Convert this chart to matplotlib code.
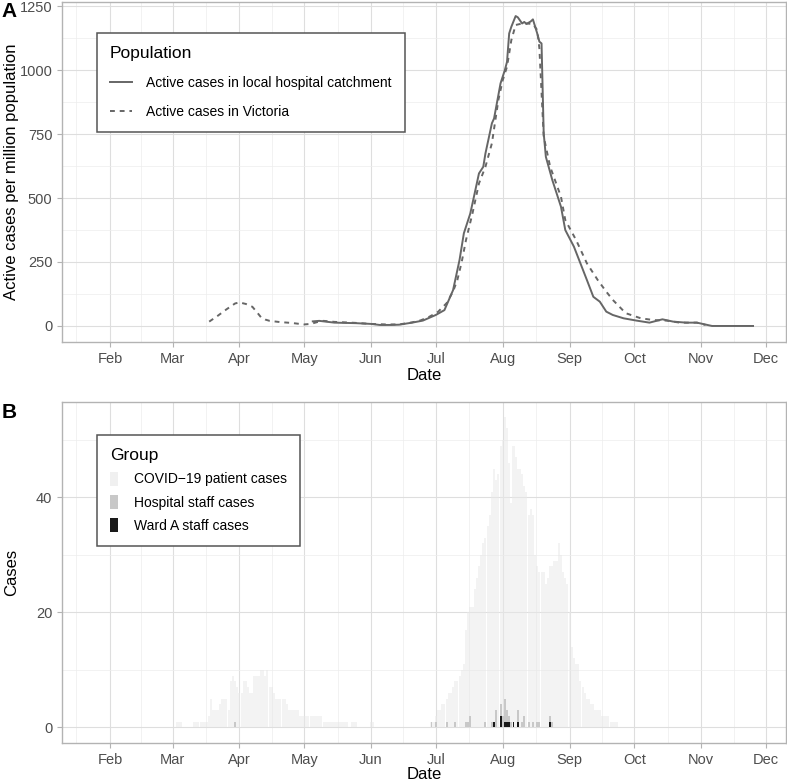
import numpy as np
import matplotlib
matplotlib.use("Agg")
import matplotlib.pyplot as plt
import matplotlib.dates as mdates
from matplotlib.patches import Patch
from matplotlib.lines import Line2D

plt.rcParams['font.family'] = ['Liberation Sans', 'DejaVu Sans']

#--------------------
# Panel A: active cases per million
local_dates = ['2020-05-05', '2020-05-08', '2020-05-12', '2020-05-15', '2020-05-20', '2020-05-25',
               '2020-06-01', '2020-06-05', '2020-06-10', '2020-06-14', '2020-06-20', '2020-06-25',
               '2020-07-01', '2020-07-05', '2020-07-09', '2020-07-12', '2020-07-14', '2020-07-17',
               '2020-07-19', '2020-07-21', '2020-07-23', '2020-07-24', '2020-07-27', '2020-07-28',
               '2020-07-31', '2020-08-02', '2020-08-03', '2020-08-04', '2020-08-05', '2020-08-07',
               '2020-08-08', '2020-08-10', '2020-08-11', '2020-08-12', '2020-08-14', '2020-08-15',
               '2020-08-17', '2020-08-18', '2020-08-19', '2020-08-20', '2020-08-21', '2020-08-24',
               '2020-08-28', '2020-08-30', '2020-09-03', '2020-09-06', '2020-09-09', '2020-09-12',
               '2020-09-15', '2020-09-18', '2020-09-21', '2020-09-26', '2020-10-02', '2020-10-08',
               '2020-10-14', '2020-10-19', '2020-10-25', '2020-10-30', '2020-11-06', '2020-11-25']
local_active = [18, 20, 16, 13, 12, 11,
                8, 4, 4, 5, 13, 21,
                43, 62, 140, 258, 362, 440,
                518, 596, 622, 674, 792, 811,
                948, 1000, 1032, 1143, 1169, 1211,
                1206, 1182, 1188, 1180, 1190, 1198,
                1143, 1111, 1104, 753, 661, 570,
                466, 375, 310, 245, 180, 114,
                95, 56, 43, 30, 21, 13,
                26, 17, 13, 13, 0, 0]

vic_dates = ['2020-03-18', '2020-03-22', '2020-03-26', '2020-03-30', '2020-04-01', '2020-04-04',
             '2020-04-07', '2020-04-09', '2020-04-11', '2020-04-13', '2020-04-15', '2020-04-20',
             '2020-04-25', '2020-05-01', '2020-05-04', '2020-05-07', '2020-05-10', '2020-05-15',
             '2020-05-20', '2020-05-25', '2020-06-01', '2020-06-08', '2020-06-14', '2020-06-20',
             '2020-06-24', '2020-06-28', '2020-07-02', '2020-07-06', '2020-07-09', '2020-07-11',
             '2020-07-13', '2020-07-15', '2020-07-18', '2020-07-21', '2020-07-24', '2020-07-27',
             '2020-07-30', '2020-08-01', '2020-08-03', '2020-08-05', '2020-08-07', '2020-08-10',
             '2020-08-12', '2020-08-15', '2020-08-17', '2020-08-18', '2020-08-20', '2020-08-23',
             '2020-08-28', '2020-08-30', '2020-09-04', '2020-09-09', '2020-09-14', '2020-09-18',
             '2020-09-21', '2020-09-27', '2020-10-04', '2020-10-10', '2020-10-16', '2020-10-22',
             '2020-10-30', '2020-11-03']
vic_active = [17, 40, 65, 88, 92, 86,
              75, 55, 34, 25, 20, 15,
              12, 6, 8, 15, 20, 16,
              14, 12, 8, 6, 6, 14,
              22, 36, 55, 89, 135, 180,
              250, 336, 440, 557, 622, 714,
              883, 960, 1013, 1117, 1176, 1182,
              1182, 1180, 1156, 1085, 740, 622,
              505, 414, 336, 245, 180, 134,
              102, 50, 30, 23, 21, 13,
              13, 4]

#--------------------
# Panel B: daily cases
cases_start = '2020-03-01'
mar_cases = [0, 0, 1, 1, 1, 0, 0, 0, 0, 0, 1, 1, 1, 1, 1, 1, 1, 2, 5, 3,
             3, 3, 4, 5, 5, 5, 3, 8, 9, 8, 7]
apr_cases = [6, 6, 8, 8, 7, 6, 6, 9, 9, 9, 10, 10, 9, 10, 7, 7, 6, 5, 5, 5,
             5, 5, 4, 3, 3, 3, 3, 3, 2, 2]
may_cases = [2, 2, 2, 2, 2, 2, 2, 2, 2, 1, 1, 1, 1, 1, 1, 1, 1, 1, 1, 1,
             1, 0, 1, 1, 1, 0, 0, 0, 0, 0, 0]
jun_cases = [1, 1, 0, 0, 0, 0, 0, 0, 0, 0, 0, 0, 0, 0, 0, 0, 0, 0, 0, 0,
             0, 0, 0, 0, 0, 0, 0, 0, 1, 1]
jul_cases = [2, 3, 3, 4, 4, 5, 6, 6, 7, 8, 8, 9, 10, 11, 17, 20, 21, 21, 24, 26,
             28, 30, 32, 33, 35, 37, 41, 45, 43, 44, 49]
aug_cases = [50, 54, 52, 46, 39, 49, 47, 45, 45, 44, 42, 41, 37, 38, 37, 30, 28, 27, 27, 27,
             25, 26, 28, 28, 29, 29, 32, 30, 27, 26, 25]
sep_cases = [20, 14, 12, 11, 11, 8, 7, 6, 5, 5, 4, 4, 3, 3, 3, 2, 2, 2, 2, 1,
             1, 1, 1, 0, 0, 0, 0, 0, 0, 0]

staff_dates = ['2020-03-30', '2020-06-29', '2020-07-01', '2020-07-06', '2020-07-10', '2020-07-15',
               '2020-07-16', '2020-07-17', '2020-07-24', '2020-07-27', '2020-07-28', '2020-07-29',
               '2020-07-31', '2020-08-01', '2020-08-02', '2020-08-03', '2020-08-04', '2020-08-05',
               '2020-08-06', '2020-08-08', '2020-08-10', '2020-08-11', '2020-08-13', '2020-08-15',
               '2020-08-17', '2020-08-18', '2020-08-23', '2020-08-24']
staff_cases = [1, 1, 1, 1, 1, 1,
               1, 2, 1, 1, 1, 3,
               4, 2, 5, 3, 2, 1,
               1, 3, 1, 2, 1, 1,
               1, 1, 2, 1]

ward_dates = ['2020-07-28', '2020-07-31', '2020-08-02', '2020-08-03', '2020-08-04', '2020-08-06',
              '2020-08-08', '2020-08-23']
ward_cases = [1, 2, 1, 1, 1, 1,
              1, 1]

month_labels = ['Feb', 'Mar', 'Apr', 'May', 'Jun', 'Jul', 'Aug', 'Sep', 'Oct', 'Nov', 'Dec']

#--------------------
# helpers
GRID = '#DEDEDE'
GRID_MINOR = '#EDEDED'
BORDER = '#B3B3B3'
TICKTXT = '#4D4D4D'


def d2n(dates):
    return mdates.date2num(np.array(dates, dtype='datetime64[D]'))


def style_axes(ax, yticks, yminor):
    month_starts = d2n(['2020-%02d-01' % m for m in range(2, 13)])
    edges = d2n(['2020-%02d-01' % m for m in range(1, 13)])
    minors = list((edges[:-1] + edges[1:]) / 2)
    ax.set_xticks(month_starts)
    ax.set_xticklabels(month_labels)
    ax.set_xticks(minors, minor=True)
    ax.set_yticks(yticks)
    ax.set_yticks(yminor, minor=True)
    ax.grid(which='major', color=GRID, linewidth=0.8)
    ax.grid(which='minor', color=GRID_MINOR, linewidth=0.5)
    ax.set_axisbelow(True)
    for sp in ax.spines.values():
        sp.set_color(BORDER)
        sp.set_linewidth(1.0)
    ax.tick_params(which='major', length=3.5, color=BORDER, labelcolor=TICKTXT,
                   labelsize=10.5, width=0.8)
    ax.tick_params(which='minor', length=0)
    ax.set_xlim(mdates.date2num(np.datetime64('2020-01-01')) + 8.8,
                mdates.date2num(np.datetime64('2020-01-01')) + 344.3)


fig = plt.figure(figsize=(7.87, 7.82), dpi=100)

#--------------------
# Panel A
axA = fig.add_axes([0.0788, 0.5627, 0.9200, 0.4353])
axA.plot(d2n(local_dates), local_active, color='#666666', lw=1.4, ls='-')
axA.plot(d2n(vic_dates), vic_active, color='#666666', lw=1.4, ls=(0, (2.5, 2.5)))
style_axes(axA, [0, 250, 500, 750, 1000, 1250], [125, 375, 625, 875, 1125])
axA.set_ylim(-62.5, 1267.6)
axA.set_xlabel('Date', fontsize=12, labelpad=2)
axA.set_ylabel('Active cases per million population', fontsize=12)
axA.yaxis.set_label_coords(-0.0594, 0.5)

handles_A = [Line2D([], [], color='#666666', lw=1.4, ls='-'),
             Line2D([], [], color='#666666', lw=1.4, ls=(0, (2.5, 2.5)))]
legA = axA.legend(handles_A, ['Active cases in local hospital catchment', 'Active cases in Victoria'],
                  title='Population', loc='upper left', bbox_to_anchor=(0.048, 0.907),
                  borderaxespad=0, fontsize=10, title_fontsize=12.5, fancybox=False,
                  framealpha=1, edgecolor='#555555', handlelength=1.6, handletextpad=1.0,
                  labelspacing=1.05, borderpad=0.95)
legA.get_frame().set_linewidth(1.1)
legA._legend_box.align = 'left'

#--------------------
# Panel B
axB = fig.add_axes([0.0788, 0.0499, 0.9200, 0.4360])
all_cases = mar_cases + apr_cases + may_cases + jun_cases + jul_cases + aug_cases + sep_cases
case_days = np.arange(np.datetime64(cases_start), np.datetime64(cases_start) + len(all_cases))
case_x = mdates.date2num(case_days)
axB.bar(case_x, all_cases, width=0.95, color='#E8E8E8', alpha=0.5, linewidth=0, zorder=2)
axB.bar(d2n(staff_dates), staff_cases, width=0.9, color='#C8C8C8', linewidth=0, zorder=3)
axB.bar(d2n(ward_dates), ward_cases, width=0.9, color='#1A1A1A', linewidth=0, zorder=4)
style_axes(axB, [0, 20, 40], [10, 30, 50])
axB.set_ylim(-2.7, 56.6)
axB.set_xlabel('Date', fontsize=12, labelpad=0.5)
axB.set_ylabel('Cases', fontsize=12)
axB.yaxis.set_label_coords(-0.0594, 0.5)

handles_B = [Patch(facecolor='#F0F0F0', edgecolor='none'),
             Patch(facecolor='#C8C8C8', edgecolor='none'),
             Patch(facecolor='#1A1A1A', edgecolor='none')]
legB = axB.legend(handles_B, ['COVID\u221219 patient cases', 'Hospital staff cases', 'Ward A staff cases'],
                  title='Group', loc='upper left', bbox_to_anchor=(0.048, 0.903),
                  borderaxespad=0, fontsize=10, title_fontsize=12.5, fancybox=False,
                  framealpha=1, edgecolor='#555555', handlelength=0.55, handleheight=1.2,
                  handletextpad=1.2, labelspacing=0.6, borderpad=0.95)
legB.get_frame().set_linewidth(1.1)
legB._legend_box.align = 'left'

fig.text(0.002, 0.997, 'A', fontsize=15, fontweight='bold', va='top', ha='left')
fig.text(0.002, 0.485, 'B', fontsize=15, fontweight='bold', va='top', ha='left')

fig.savefig('out.png', dpi=100)
